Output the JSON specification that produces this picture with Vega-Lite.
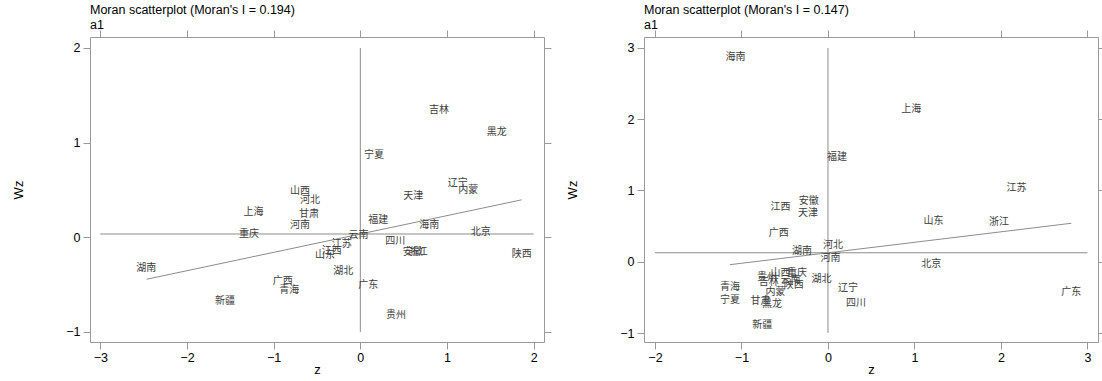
{
  "$schema": "https://vega.github.io/schema/vega-lite/v6.json",
  "padding": {"left": 12, "top": 3, "right": 0, "bottom": 0},
  "background": "white",
  "config": {
    "font": "Liberation Sans",
    "view": {"stroke": "#999999", "strokeWidth": 1},
    "axis": {
      "domain": false, "grid": false, "tickColor": "#999999", "tickSize": 7, "tickWidth": 1,
      "labelColor": "#000000", "labelFontSize": 12.5, "labelFont": "Liberation Sans", "labelPadding": 2,
      "titleFont": "Liberation Sans", "titleFontSize": 13, "titleFontWeight": "normal", "titleColor": "#000000"
    },
    "title": {"font": "Liberation Sans", "fontSize": 12.5, "fontWeight": "normal", "color": "#000000",
      "subtitleFont": "Liberation Sans", "subtitleFontSize": 12.5, "subtitleColor": "#000000", "subtitlePadding": 0,
      "anchor": "start", "frame": "group", "offset": -2}
  },
  "datasets": {
    "leftPts": [
      {"name": "山西", "z": -0.696, "wz": 0.492},
      {"name": "河北", "z": -0.58, "wz": 0.397},
      {"name": "上海", "z": -1.234, "wz": 0.264},
      {"name": "甘肃", "z": -0.592, "wz": 0.246},
      {"name": "河南", "z": -0.696, "wz": 0.127},
      {"name": "重庆", "z": -1.284, "wz": 0.035},
      {"name": "云南", "z": -0.02, "wz": 0.024},
      {"name": "江苏", "z": -0.215, "wz": -0.071},
      {"name": "江西", "z": -0.331, "wz": -0.148},
      {"name": "山东", "z": -0.407, "wz": -0.187},
      {"name": "湖北", "z": -0.196, "wz": -0.353},
      {"name": "湖南", "z": -2.47, "wz": -0.327},
      {"name": "广西", "z": -0.896, "wz": -0.458},
      {"name": "青海", "z": -0.819, "wz": -0.553},
      {"name": "新疆", "z": -1.561, "wz": -0.676},
      {"name": "广东", "z": 0.092, "wz": -0.504},
      {"name": "贵州", "z": 0.411, "wz": -0.82},
      {"name": "四川", "z": 0.404, "wz": -0.039},
      {"name": "安徽", "z": 0.606, "wz": -0.158},
      {"name": "浙江", "z": 0.663, "wz": -0.158},
      {"name": "福建", "z": 0.208, "wz": 0.186},
      {"name": "海南", "z": 0.796, "wz": 0.13},
      {"name": "北京", "z": 1.388, "wz": 0.053},
      {"name": "陕西", "z": 1.861, "wz": -0.176},
      {"name": "天津", "z": 0.611, "wz": 0.439},
      {"name": "辽宁", "z": 1.123, "wz": 0.57},
      {"name": "内蒙", "z": 1.246, "wz": 0.5},
      {"name": "宁夏", "z": 0.158, "wz": 0.872},
      {"name": "吉林", "z": 0.907, "wz": 1.347},
      {"name": "黑龙", "z": 1.573, "wz": 1.109}
    ],
    "leftLines": [
      {"x": 0, "x2": 0, "y": -1, "y2": 2},
      {"x": -3, "x2": 2, "y": 0.035, "y2": 0.035},
      {"x": -2.465, "x2": 1.861, "y": -0.443, "y2": 0.396}
    ],
    "rightPts": [
      {"name": "海南", "z": -1.068, "wz": 2.867},
      {"name": "上海", "z": 0.962, "wz": 2.142},
      {"name": "福建", "z": 0.104, "wz": 1.464},
      {"name": "江苏", "z": 2.18, "wz": 1.039},
      {"name": "安徽", "z": -0.223, "wz": 0.851},
      {"name": "江西", "z": -0.549, "wz": 0.772},
      {"name": "天津", "z": -0.231, "wz": 0.688},
      {"name": "广西", "z": -0.569, "wz": 0.407},
      {"name": "河北", "z": 0.058, "wz": 0.233},
      {"name": "湖南", "z": -0.3, "wz": 0.149},
      {"name": "河南", "z": 0.028, "wz": 0.056},
      {"name": "山东", "z": 1.219, "wz": 0.57},
      {"name": "浙江", "z": 1.977, "wz": 0.552},
      {"name": "北京", "z": 1.193, "wz": -0.038},
      {"name": "广东", "z": 2.814, "wz": -0.431},
      {"name": "辽宁", "z": 0.231, "wz": -0.365},
      {"name": "四川", "z": 0.323, "wz": -0.585},
      {"name": "湖北", "z": -0.076, "wz": -0.248},
      {"name": "青海", "z": -1.134, "wz": -0.351},
      {"name": "宁夏", "z": -1.134, "wz": -0.539},
      {"name": "新疆", "z": -0.761, "wz": -0.89},
      {"name": "贵州", "z": -0.704, "wz": -0.211},
      {"name": "吉林", "z": -0.684, "wz": -0.281},
      {"name": "山西", "z": -0.549, "wz": -0.164},
      {"name": "重庆", "z": -0.358, "wz": -0.164},
      {"name": "云南", "z": -0.434, "wz": -0.258},
      {"name": "陕西", "z": -0.396, "wz": -0.328},
      {"name": "内蒙", "z": -0.607, "wz": -0.431},
      {"name": "甘肃", "z": -0.78, "wz": -0.553},
      {"name": "黑龙", "z": -0.646, "wz": -0.595}
    ],
    "rightLines": [
      {"x": 0, "x2": 0, "y": -1, "y2": 3},
      {"x": -2, "x2": 3, "y": 0.126, "y2": 0.126},
      {"x": -1.134, "x2": 2.814, "y": -0.041, "y2": 0.54}
    ]
  },
  "bounds": "flush",
  "spacing": 100,
  "hconcat": [
    {
      "width": 454, "height": 305,
      "title": {"text": "Moran scatterplot (Moran's I = 0.194)", "subtitle": "a1"},
      "layer": [
        {
          "data": {"name": "leftLines"},
          "mark": {"type": "rule", "color": "#8c8c8c", "strokeWidth": 1},
          "encoding": {
            "x": {"field": "x", "type": "quantitative", "scale": {"domain": [-3.119, 2.119], "nice": false, "zero": false},
              "axis": {"orient": "top", "values": [-3, -2, -1, 0, 1, 2], "labels": false, "title": null}},
            "x2": {"field": "x2"},
            "y": {"field": "y", "type": "quantitative", "scale": {"domain": [-1.106, 2.116], "nice": false, "zero": false},
              "axis": {"orient": "right", "values": [-1, 0, 1, 2], "labels": false, "title": null}},
            "y2": {"field": "y2"}
          }
        },
        {
          "data": {"name": "leftPts"},
          "mark": {"type": "text", "font": "Noto Sans CJK SC", "fontSize": 10, "color": "#3c3c3c"},
          "encoding": {
            "x": {"field": "z", "type": "quantitative", "scale": {"domain": [-3.119, 2.119], "nice": false, "zero": false},
              "axis": {"orient": "bottom", "values": [-3, -2, -1, 0, 1, 2], "title": "z", "titlePadding": 0}},
            "y": {"field": "wz", "type": "quantitative", "scale": {"domain": [-1.106, 2.116], "nice": false, "zero": false},
              "axis": {"orient": "left", "values": [-1, 0, 1, 2], "title": "Wz", "titlePadding": 40, "labelPadding": 3}},
            "text": {"field": "name", "type": "nominal"}
          }
        }
      ],
      "resolve": {"axis": {"x": "independent", "y": "independent"}}
    },
    {
      "width": 454, "height": 305,
      "title": {"text": "Moran scatterplot (Moran's I = 0.147)", "subtitle": "a1"},
      "layer": [
        {
          "data": {"name": "rightLines"},
          "mark": {"type": "rule", "color": "#8c8c8c", "strokeWidth": 1},
          "encoding": {
            "x": {"field": "x", "type": "quantitative", "scale": {"domain": [-2.127, 3.122], "nice": false, "zero": false},
              "axis": {"orient": "top", "values": [-2, -1, 0, 1, 2, 3], "labels": false, "title": null}},
            "x2": {"field": "x2"},
            "y": {"field": "y", "type": "quantitative", "scale": {"domain": [-1.126, 3.154], "nice": false, "zero": false},
              "axis": {"orient": "right", "values": [-1, 0, 1, 2, 3], "labels": false, "title": null}},
            "y2": {"field": "y2"}
          }
        },
        {
          "data": {"name": "rightPts"},
          "mark": {"type": "text", "font": "Noto Sans CJK SC", "fontSize": 10, "color": "#3c3c3c"},
          "encoding": {
            "x": {"field": "z", "type": "quantitative", "scale": {"domain": [-2.127, 3.122], "nice": false, "zero": false},
              "axis": {"orient": "bottom", "values": [-2, -1, 0, 1, 2, 3], "title": "z", "titlePadding": 0}},
            "y": {"field": "wz", "type": "quantitative", "scale": {"domain": [-1.126, 3.154], "nice": false, "zero": false},
              "axis": {"orient": "left", "values": [-1, 0, 1, 2, 3], "title": "Wz", "titlePadding": 40, "labelPadding": 3}},
            "text": {"field": "name", "type": "nominal"}
          }
        }
      ],
      "resolve": {"axis": {"x": "independent", "y": "independent"}}
    }
  ]
}
